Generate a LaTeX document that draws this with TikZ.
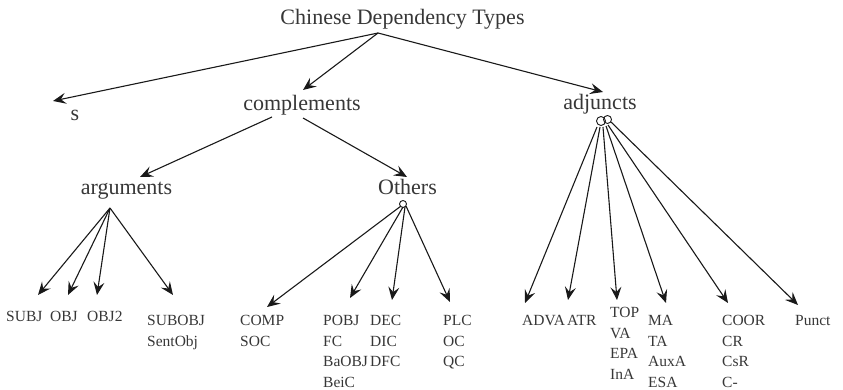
\documentclass[tikz,border=0pt]{standalone}
\usepackage{fontspec}
\setmainfont{Liberation Serif}
\usetikzlibrary{arrows.meta}
\definecolor{txt}{RGB}{55,55,55}
\definecolor{ln}{RGB}{25,25,25}
\tikzset{
  big/.style={font=\fontsize{22}{26}\selectfont, text=txt, inner sep=0pt, anchor=base},
  leaf/.style={font=\fontsize{15.5}{20.5}\selectfont, text=txt, inner sep=0pt, anchor=north west, align=left},
  arr/.style={draw=ln, line width=1.1pt, -{Stealth[length=13pt,width=11pt,inset=5pt]}},
  loop/.style={draw=ln, line width=0.9pt}
}
\begin{document}
\begin{tikzpicture}[x=1pt,y=-1pt]
\useasboundingbox (0,0) rectangle (843,390);
% upper nodes
\node[big] (title) at (402.5,25) {Chinese Dependency Types};
\node[big] (s) at (75,121) {s};
\node[big] (comp) at (302,111) {complements};
\node[big] (adj) at (600,110) {adjuncts};
\node[big] (args) at (126.5,195) {arguments};
\node[big] (oth) at (407.5,195) {Others};
% leaves
\node[leaf] (subj) at (6,307) {\strut SUBJ};
\node[leaf] (obj) at (50,307) {\strut OBJ};
\node[leaf] (obj2) at (87,307) {\strut OBJ2};
\node[leaf] (subobj) at (147,311) {\strut SUBOBJ\\SentObj};
\node[leaf] (compl) at (240,311) {\strut COMP\\SOC};
\node[leaf] (pobj) at (323,311) {\strut POBJ\\FC\\BaOBJ\\BeiC};
\node[leaf] (dec) at (370,311) {\strut DEC\\DIC\\DFC};
\node[leaf] (plc) at (443,311) {\strut PLC\\OC\\QC};
\node[leaf] (adva) at (522,311) {\strut ADVA};
\node[leaf] (atr) at (567,311) {\strut ATR};
\node[leaf] (top) at (610,303) {\strut TOP\\VA\\EPA\\InA};
\node[leaf] (ma) at (648,311) {\strut MA\\TA\\AuxA\\ESA};
\node[leaf] (coor) at (722,311) {\strut COOR\\CR\\CsR\\C-};
\node[leaf] (punct) at (795,311) {\strut Punct};
% origin coordinates
\coordinate (title-o) at (378,33);
\coordinate (comp-ol) at (272,117);
\coordinate (comp-or) at (303,118);
\coordinate (args-o) at (110,208);
\coordinate (oth-o) at (403,204);
% tip coordinates
\coordinate (s-t) at (53,101);
\coordinate (comp-t) at (303,90);
\coordinate (adj-t) at (603,92);
\coordinate (args-t) at (140,177);
\coordinate (oth-t) at (407,177);
\coordinate (subj-t) at (38,295);
\coordinate (obj-t) at (68,295);
\coordinate (obj2-t) at (97,295);
\coordinate (subobj-t) at (173,295);
\coordinate (compl-t) at (267,307);
\coordinate (pobj-t) at (350,298);
\coordinate (dec-t) at (392,300);
\coordinate (plc-t) at (450,302);
\coordinate (adva-t) at (525,303);
\coordinate (atr-t) at (568,300);
\coordinate (top-t) at (617,300);
\coordinate (ma-t) at (666,303);
\coordinate (coor-t) at (728,303);
\coordinate (punct-t) at (798,305);
% adjuncts origins
\coordinate (adj-o1) at (597,127);
\coordinate (adj-o2) at (600,127);
\coordinate (adj-o3) at (603,127);
\coordinate (adj-o4) at (606,126);
\coordinate (adj-o5) at (608,125);
\coordinate (adj-o6) at (611,122);
% arrows
\draw[arr] (title-o) -- (s-t);
\draw[arr] (title-o) -- (comp-t);
\draw[arr] (title-o) -- (adj-t);
\draw[arr] (comp-ol) -- (args-t);
\draw[arr] (comp-or) -- (oth-t);
\draw[arr] (args-o) -- (subj-t);
\draw[arr] (args-o) -- (obj-t);
\draw[arr] (args-o) -- (obj2-t);
\draw[arr] (args-o) -- (subobj-t);
\draw[loop] (oth-o) circle[radius=3.5];
\draw[arr] (oth-o) ++(-2,2) -- (compl-t);
\draw[arr] (oth-o) ++(0,3) -- (pobj-t);
\draw[arr] (oth-o) ++(2,3) -- (dec-t);
\draw[arr] (oth-o) ++(3,2) -- (plc-t);
\draw[loop] (601,121) circle[radius=4.5];
\draw[loop] (607.5,119.5) circle[radius=4];
\draw[arr] (adj-o1) -- (adva-t);
\draw[arr] (adj-o2) -- (atr-t);
\draw[arr] (adj-o3) -- (top-t);
\draw[arr] (adj-o4) -- (ma-t);
\draw[arr] (adj-o5) -- (coor-t);
\draw[arr] (adj-o6) -- (punct-t);
\end{tikzpicture}
\end{document}
